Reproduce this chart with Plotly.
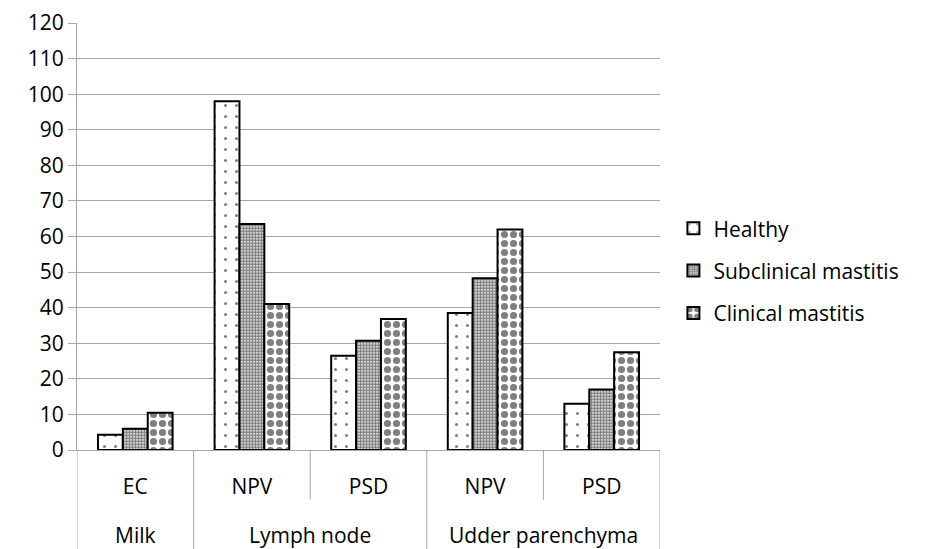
import plotly.graph_objects as go

outer = ["Milk", "Lymph node", "Lymph node", "Udder parenchyma", "Udder parenchyma"]
inner = ["EC", "NPV", "PSD", "NPV", "PSD"]
healthy = [4.3, 98.0, 26.5, 38.5, 13.0]
subclinical = [6.0, 63.5, 30.7, 48.3, 17.0]
clinical = [10.5, 41.0, 36.8, 62.0, 27.5]
series_names = ["Healthy", "Subclinical mastitis", "Clinical mastitis"]
y_ticks = list(range(0, 121, 10))

keys = [f"{o}|{i}" for o, i in zip(outer, inner)]
FONT = "Open Sans, Noto Sans, sans-serif"
GRID = "#a6a6a6"

patterns = [
    dict(shape=".", size=11, solidity=0.06, fgcolor="black", bgcolor="white", fillmode="overlay"),
    dict(shape=".", size=3, solidity=0.7, fgcolor="black", bgcolor="white", fillmode="overlay"),
    dict(shape=".", size=9, solidity=0.5, fgcolor="black", bgcolor="white", fillmode="overlay"),
]

fig = go.Figure()
for name, vals, pat in zip(series_names, [healthy, subclinical, clinical], patterns):
    fig.add_trace(go.Bar(
        x=keys, y=vals, name=name, legendgroup=name,
        marker=dict(color="white", pattern=pat, line=dict(color="black", width=2)),
    ))

# category dividers below the axis
n = len(keys)
bounds = [(-0.5, True)]
for i in range(1, n):
    bounds.append((i - 0.5, outer[i] != outer[i - 1]))
bounds.append((n - 0.5, True))
for xb, is_outer in bounds:
    fig.add_shape(type="line", xref="x", yref="paper", x0=xb, x1=xb,
                  y0=0, y1=(-0.25 if is_outer else -0.116),
                  line=dict(color=GRID, width=1), layer="below")

# outer group labels
groups = []
for i, o in enumerate(outer):
    if groups and groups[-1][0] == o:
        groups[-1][1].append(i)
    else:
        groups.append((o, [i]))
for o, idx in groups:
    fig.add_annotation(x=sum(idx) / len(idx), xref="x", y=-0.198, yref="paper",
                       text=o, showarrow=False, yanchor="middle",
                       font=dict(family=FONT, size=21, color="black"))

fig.update_layout(
    width=928, height=549,
    margin=dict(l=69, r=276, t=15, b=107),
    paper_bgcolor="white", plot_bgcolor="white",
    font=dict(family=FONT, size=21, color="black"),
    barmode="group", bargap=0.36, bargroupgap=0,
    legend=dict(x=1.023, xanchor="left", y=0.42, yanchor="middle",
                font=dict(size=21), traceorder="grouped", tracegroupgap=12,
                itemwidth=30),
    showlegend=True,
)
fig.update_yaxes(
    range=[0, 120], tickvals=y_ticks, showgrid=True, gridcolor=GRID, gridwidth=1,
    showline=True, linecolor=GRID, linewidth=1, ticks="outside", ticklen=8,
    tickcolor=GRID, zeroline=False, tickfont=dict(size=21), automargin=False,
    ticklabeloverflow="allow",
)
fig.update_xaxes(
    type="category", range=[-0.5, n - 0.5], tickvals=keys, ticktext=inner,
    showline=True, linecolor=GRID, linewidth=1, ticks="", ticklabelstandoff=18,
    tickfont=dict(size=21), automargin=False,
)

fig.write_html("out.html")
